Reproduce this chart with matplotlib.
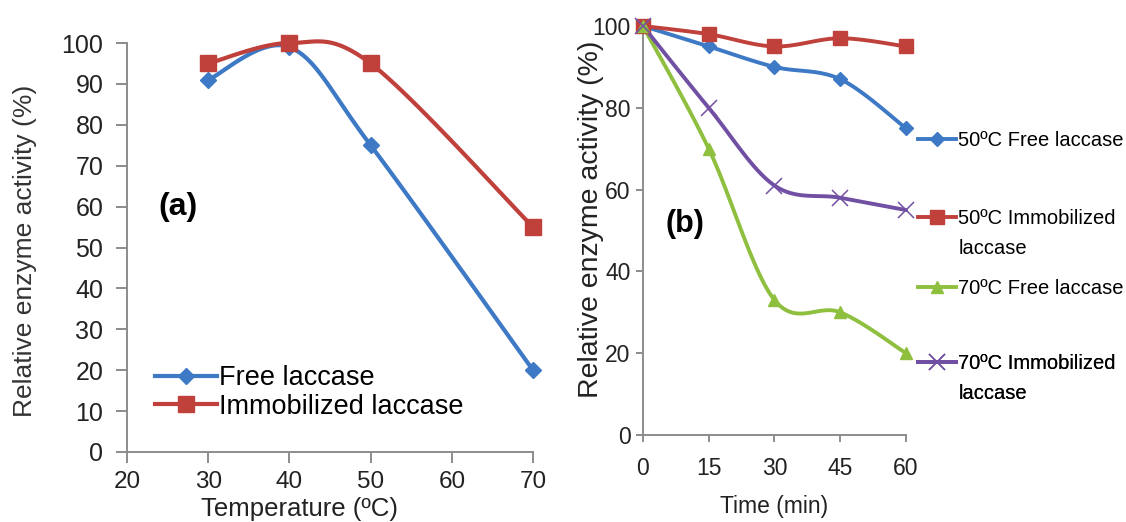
import numpy as np
import matplotlib
matplotlib.use('Agg')
import matplotlib.pyplot as plt

plt.rcParams['font.family'] = ['Liberation Sans', 'DejaVu Sans']

# panel (a) : thermal activity profile
temp = [30, 40, 50, 70]
free_a = [91, 99, 75, 20]
immob_a = [95, 100, 95, 55]

# panel (b) : thermal stability over time
time_min = [0, 15, 30, 45, 60]
free50 = [100, 95, 90, 87, 75]
immob50 = [100, 98, 95, 97, 95]
free70 = [100, 70, 33, 30, 20]
immob70 = [100, 80, 61, 58, 55]

labels_b = ['50ºC Free laccase', '50ºC Immobilized', '70ºC Free laccase', '70ºC Immobilized']
label_cont = 'laccase'

BLUE = '#3d79c4'
RED = '#c0413c'
GREEN = '#8fbf3f'
PURPLE = '#7150a3'
SPINE = '#8c8c8c'
TXT = '#222222'


def smooth(x, y, n=30):
    # excel style smoothed line (bezier through the points)
    x = np.asarray(x, float)
    y = np.asarray(y, float)
    px = np.concatenate([[x[0]], x, [x[-1]]])
    py = np.concatenate([[y[0]], y, [y[-1]]])
    xs, ys = [], []
    t = np.linspace(0, 1, n)
    for i in range(1, len(px) - 2):
        p0 = np.array([px[i], py[i]])
        p3 = np.array([px[i + 1], py[i + 1]])
        p1 = p0 + (np.array([px[i + 1], py[i + 1]]) - np.array([px[i - 1], py[i - 1]])) / 6
        p2 = p3 - (np.array([px[i + 2], py[i + 2]]) - np.array([px[i], py[i]])) / 6
        b = ((1 - t) ** 3)[:, None] * p0 + (3 * (1 - t) ** 2 * t)[:, None] * p1 \
            + (3 * (1 - t) * t ** 2)[:, None] * p2 + (t ** 3)[:, None] * p3
        xs.extend(b[:, 0])
        ys.extend(b[:, 1])
    return xs, ys


def plot_series(ax, x, y, color, marker, ms, label, lw=2.8, mew=1):
    sx, sy = smooth(x, y)
    ax.plot(sx, sy, color=color, lw=lw, solid_capstyle='round', zorder=2, clip_on=False)
    ax.plot(x, y, ls='none', marker=marker, ms=ms, color=color, mec=color, mew=mew, zorder=3, clip_on=False)
    # proxy for legend
    return ax.plot([], [], color=color, lw=lw, marker=marker, ms=ms, mec=color, mew=mew, label=label)[0]


def style_axes(ax, ticklen):
    for s in ['top', 'right']:
        ax.spines[s].set_visible(False)
    for s in ['left', 'bottom']:
        ax.spines[s].set_color(SPINE)
        ax.spines[s].set_linewidth(1.4)
    ax.tick_params(direction='out', length=ticklen, width=1.4, color=SPINE, labelcolor=TXT)


fig = plt.figure(figsize=(11.26, 5.22), dpi=100)

# =============================================================================
# (a)
# =============================================================================
ax1 = fig.add_axes([0.1128, 0.1341, 0.3606, 0.7835])
h1 = plot_series(ax1, temp, free_a, BLUE, 'D', 8, 'Free laccase', lw=3)
h2 = plot_series(ax1, temp, immob_a, RED, 's', 12, 'Immobilized laccase', lw=3)
ax1.set_xlim(20, 70)
ax1.set_ylim(0, 100)
ax1.set_xticks(np.arange(20, 71, 10))
ax1.set_yticks(np.arange(0, 101, 10))
style_axes(ax1, 8)
ax1.tick_params(axis='y', labelsize=18, pad=9)
ax1.tick_params(axis='x', labelsize=17.5, pad=6)
ax1.set_xlabel('Temperature (ºC)', fontsize=18.5, color=TXT)
ax1.xaxis.set_label_coords(0.424, -0.11)
ax1.set_ylabel('Relative enzyme activity (%)', fontsize=19, color='#333333')
ax1.yaxis.set_label_coords(-0.222, 0.491)
ax1.text(0.125, 0.60, '(a)', transform=ax1.transAxes, fontsize=23, fontweight='bold',
         ha='center', va='center')
ax1.legend(handles=[h1, h2], loc='center left', bbox_to_anchor=(0.069, 0.1455), frameon=False,
           fontsize=19.5, handlelength=2.3, handletextpad=0.08, labelspacing=0.08,
           borderpad=0, borderaxespad=0)

# =============================================================================
# (b)
# =============================================================================
ax2 = fig.add_axes([0.5710, 0.1667, 0.2336, 0.7835])
g1 = plot_series(ax2, time_min, free50, BLUE, 'D', 7, labels_b[0])
g2 = plot_series(ax2, time_min, immob50, RED, 's', 10, labels_b[1])
g3 = plot_series(ax2, time_min, free70, GREEN, '^', 9, labels_b[2])
g4 = plot_series(ax2, time_min, immob70, PURPLE, 'x', 11, labels_b[3], mew=1.1)
ax2.set_xlim(0, 60)
ax2.set_ylim(0, 100)
ax2.set_xticks(time_min)
ax2.set_yticks(np.arange(0, 101, 20))
style_axes(ax2, 5)
ax2.tick_params(axis='y', labelsize=16.5, pad=4)
ax2.tick_params(axis='x', labelsize=16.5, pad=11)
ax2.set_xlabel('Time (min)', fontsize=16.5, color=TXT)
ax2.xaxis.set_label_coords(0.5, -0.147)
ax2.set_ylabel('Relative enzyme activity (%)', fontsize=20.5, color=TXT)
ax2.yaxis.set_label_coords(-0.148, 0.528)
ax2.text(0.16, 0.515, '(b)', transform=ax2.transAxes, fontsize=22, fontweight='bold',
         ha='center', va='center')

# legend of (b): one block per series, second line of the long names as its own row
blank = plt.Line2D([], [], color='none')
blocks = [([g1], [labels_b[0]], 0.721),
          ([g2, blank], [labels_b[1], label_cont], 0.493),
          ([g3], [labels_b[2]], 0.357),
          ([g4, blank], [labels_b[3], label_cont], 0.137)]
for hs, ls, yy in blocks:
    leg = ax2.legend(handles=hs, labels=ls, loc='center left', bbox_to_anchor=(1.046, yy),
                     frameon=False, fontsize=14.5, handlelength=1.9, handletextpad=0.1,
                     labelspacing=0.55, borderpad=0, borderaxespad=0)
    ax2.add_artist(leg)

fig.savefig('out.png', dpi=100)
